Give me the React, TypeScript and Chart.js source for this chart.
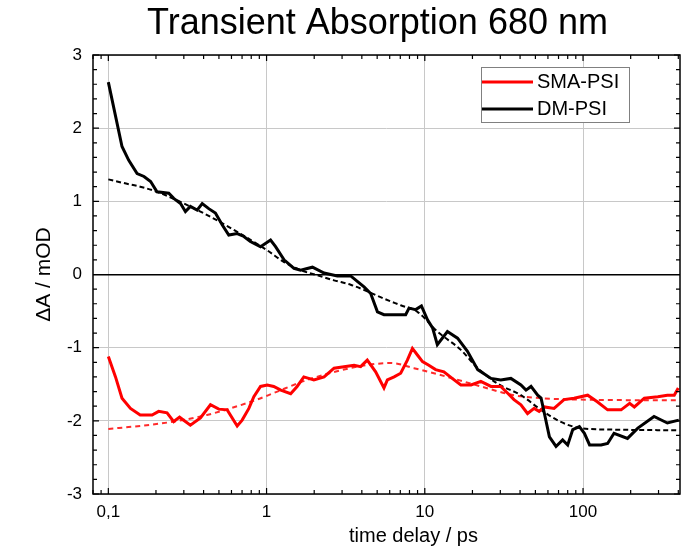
import { useEffect, useRef } from "react";
import { Chart, registerables } from "chart.js";

Chart.register(...registerables);

const TITLE = "Transient Absorption 680 nm";
const X_LABEL = "time delay / ps";
const Y_LABEL = "ΔA / mOD";
const SERIES_NAMES = ["SMA-PSI", "DM-PSI"];
const SERIES_COLORS = ["#ff0000", "#000000"];

// DM-PSI (black) measured trace
const dmX = [0.1, 0.122, 0.1346, 0.152, 0.168, 0.185, 0.203, 0.241, 0.259, 0.286, 0.307, 0.33, 0.364, 0.392, 0.431, 0.475, 0.524, 0.577, 0.652, 0.719, 0.79, 0.916, 1.06, 1.14, 1.29, 1.49, 1.64, 1.95, 2.31, 2.8, 3.4, 4.13, 4.55, 5.02, 5.52, 6.7, 7.57, 7.95, 8.76, 9.52, 10.4, 11.2, 12.0, 13.9, 16.1, 18.6, 21.6, 26.2, 30.2, 35.0, 40.5, 43.6, 46.9, 51.7, 54.3, 57.0, 61.3, 67.5, 74.3, 80.0, 86.1, 94.8, 102, 110, 130, 143, 157, 191, 222, 281, 341, 403];
const dmY = [2.63, 1.75, 1.56, 1.38, 1.34, 1.27, 1.13, 1.11, 1.04, 0.97, 0.86, 0.93, 0.88, 0.97, 0.9, 0.84, 0.68, 0.54, 0.56, 0.52, 0.45, 0.38, 0.47, 0.38, 0.2, 0.085, 0.06, 0.1, 0.02, -0.02, -0.02, -0.17, -0.26, -0.51, -0.55, -0.55, -0.55, -0.46, -0.48, -0.43, -0.62, -0.73, -0.96, -0.78, -0.87, -1.05, -1.3, -1.42, -1.44, -1.42, -1.51, -1.58, -1.53, -1.65, -1.69, -1.9, -2.22, -2.35, -2.26, -2.33, -2.12, -2.08, -2.17, -2.33, -2.33, -2.31, -2.17, -2.24, -2.1, -1.94, -2.03, -1.99];

// SMA-PSI (red) measured trace
const smaX = [0.1, 0.111, 0.122, 0.138, 0.159, 0.189, 0.208, 0.235, 0.259, 0.282, 0.33, 0.382, 0.442, 0.499, 0.564, 0.652, 0.701, 0.773, 0.831, 0.916, 1.01, 1.11, 1.23, 1.42, 1.56, 1.72, 1.99, 2.31, 2.67, 3.57, 3.93, 4.33, 4.89, 5.52, 5.8, 6.4, 7.04, 7.76, 8.35, 8.98, 9.67, 10.6, 11.7, 13.2, 14.9, 16.9, 19.6, 22.6, 26.2, 30.2, 33.3, 36.6, 40.5, 44.6, 49.1, 52.8, 57.0, 65.6, 75.8, 87.8, 107, 123, 143, 174, 197, 211, 244, 297, 341, 377, 400];
const smaY = [-1.12, -1.4, -1.69, -1.83, -1.92, -1.92, -1.87, -1.89, -2.01, -1.95, -2.06, -1.96, -1.78, -1.84, -1.85, -2.07, -1.99, -1.83, -1.67, -1.53, -1.51, -1.53, -1.58, -1.63, -1.53, -1.4, -1.44, -1.4, -1.28, -1.24, -1.26, -1.17, -1.33, -1.55, -1.44, -1.4, -1.35, -1.17, -1.01, -1.1, -1.19, -1.24, -1.3, -1.33, -1.42, -1.51, -1.51, -1.46, -1.53, -1.53, -1.62, -1.71, -1.78, -1.9, -1.83, -1.87, -1.81, -1.83, -1.71, -1.69, -1.65, -1.74, -1.85, -1.85, -1.76, -1.81, -1.69, -1.67, -1.65, -1.65, -1.55];

// Fits (dashed)
const dmFitX = [0.1, 0.125, 0.159, 0.203, 0.382, 0.621, 1.01, 1.29, 1.64, 2.09, 2.67, 3.4, 4.33, 5.52, 7.04, 8.98, 12.0, 16.9, 21.6, 28.8, 40.5, 54.3, 71.6, 96.4, 157, 403];
const dmFitY = [1.3, 1.25, 1.2, 1.13, 0.86, 0.61, 0.33, 0.17, 0.06, -0.01, -0.08, -0.14, -0.23, -0.33, -0.42, -0.51, -0.78, -1.03, -1.28, -1.49, -1.65, -1.85, -2.01, -2.1, -2.12, -2.13];
const smaFitX = [0.1, 0.159, 0.259, 0.42, 0.59, 0.87, 1.11, 1.81, 3.75, 6.08, 8.54, 13.9, 22.6, 36.6, 54.3, 96.4, 403];
const smaFitY = [-2.11, -2.07, -2.01, -1.92, -1.83, -1.71, -1.62, -1.44, -1.26, -1.21, -1.28, -1.4, -1.53, -1.65, -1.69, -1.71, -1.72];

// Axes
const X_MIN = 0.08;
const X_MAX = 410;
const X_MAJOR = [0.1, 1, 10, 100];
const X_TICK_LABELS = ["0,1", "1", "10", "100"];
const X_MINOR = [0.08, 0.09, 0.2, 0.3, 0.4, 0.5, 0.6, 0.7, 0.8, 0.9, 2, 3, 4, 5, 6, 7, 8, 9, 20, 30, 40, 50, 60, 70, 80, 90, 200, 300, 400];
const Y_MIN = -3;
const Y_MAX = 3;
const Y_MAJOR = [-3, -2, -1, 0, 1, 2, 3];
const Y_MINOR = [-2.8, -2.6, -2.4, -2.2, -1.8, -1.6, -1.4, -1.2, -0.8, -0.6, -0.4, -0.2, 0.2, 0.4, 0.6, 0.8, 1.2, 1.4, 1.6, 1.8, 2.2, 2.4, 2.6, 2.8];

const FONT = "'Liberation Sans', Arial, Helvetica, sans-serif";

const toPts = (xs: number[], ys: number[]) => xs.map((x, i) => ({ x, y: ys[i] }));

const framePlugin = {
  id: "frameTicksLegend",
  afterLayout(chart: any) {
    // nudge the chart title and the x-axis title horizontally to where the reference has them
    const tb = chart.titleBlock;
    if (tb) {
      tb.left = 62;
      tb.right = 693;
    }
    const xs = chart.scales.x;
    if (xs) xs.right += 54;
  },
  afterDatasetsDraw(chart: any) {
    const { ctx, chartArea: ca, scales } = chart;
    const xs = scales.x;
    const ys = scales.y;
    ctx.save();
    ctx.strokeStyle = "#000";
    ctx.lineWidth = 1.5;
    ctx.strokeRect(ca.left, ca.top, ca.right - ca.left, ca.bottom - ca.top);

    ctx.lineWidth = 1.2;
    ctx.beginPath();
    const tickX = (v: number, len: number) => {
      const px = xs.getPixelForValue(v);
      ctx.moveTo(px, ca.bottom);
      ctx.lineTo(px, ca.bottom - len);
      ctx.moveTo(px, ca.top);
      ctx.lineTo(px, ca.top + len);
    };
    const tickY = (v: number, len: number) => {
      const py = ys.getPixelForValue(v);
      ctx.moveTo(ca.left, py);
      ctx.lineTo(ca.left + len, py);
      ctx.moveTo(ca.right, py);
      ctx.lineTo(ca.right - len, py);
    };
    X_MAJOR.forEach((v) => tickX(v, 6));
    X_MINOR.forEach((v) => tickX(v, 4));
    Y_MAJOR.forEach((v) => tickY(v, 6));
    Y_MINOR.forEach((v) => tickY(v, 4));
    ctx.stroke();

    // legend box
    const lx = ca.right - 199;
    const ly = ca.top + 12;
    const lw = 148;
    const lh = 55;
    ctx.fillStyle = "#fff";
    ctx.fillRect(lx, ly, lw, lh);
    ctx.strokeStyle = "#808080";
    ctx.lineWidth = 1;
    ctx.strokeRect(lx + 0.5, ly + 0.5, lw, lh);
    ctx.font = `20px ${FONT}`;
    ctx.textBaseline = "middle";
    ctx.textAlign = "left";
    SERIES_NAMES.forEach((name, i) => {
      const cy = ly + 15 + i * 27;
      ctx.strokeStyle = SERIES_COLORS[i];
      ctx.lineWidth = 3;
      ctx.beginPath();
      ctx.moveTo(lx + 1, cy);
      ctx.lineTo(lx + 52, cy);
      ctx.stroke();
      ctx.fillStyle = "#000";
      ctx.fillText(name, lx + 56, cy);
    });
    ctx.restore();
  },
};

export default function App() {
  const ref = useRef<HTMLCanvasElement | null>(null);
  useEffect(() => {
    if (!ref.current) return;
    const chart = new Chart(ref.current, {
      type: "line",
      data: {
        datasets: [
          {
            label: SERIES_NAMES[1],
            data: toPts(dmX, dmY),
            borderColor: SERIES_COLORS[1],
            borderWidth: 3,
            pointRadius: 0,
            tension: 0,
            order: 0,
          },
          {
            label: SERIES_NAMES[0],
            data: toPts(smaX, smaY),
            borderColor: SERIES_COLORS[0],
            borderWidth: 3,
            pointRadius: 0,
            tension: 0,
            order: 1,
          },
          {
            label: SERIES_NAMES[1] + " fit",
            data: toPts(dmFitX, dmFitY),
            borderColor: "#000",
            borderWidth: 2,
            borderDash: [5, 3],
            pointRadius: 0,
            cubicInterpolationMode: "monotone",
            order: 2,
          },
          {
            label: SERIES_NAMES[0] + " fit",
            data: toPts(smaFitX, smaFitY),
            borderColor: "#ff2a2a",
            borderWidth: 2,
            borderDash: [5, 4],
            pointRadius: 0,
            cubicInterpolationMode: "monotone",
            order: 3,
          },
        ],
      },
      options: {
        responsive: false,
        animation: false,
        events: [],
        layout: { padding: { left: 0, right: 13, top: 0, bottom: 0 } },
        plugins: {
          legend: { display: false },
          tooltip: { enabled: false },
          title: {
            display: true,
            text: TITLE,
            color: "#000",
            font: { family: FONT, size: 36, weight: "normal" },
            padding: { top: 2, bottom: 9.8 },
          },
        },
        scales: {
          x: {
            type: "logarithmic",
            min: X_MIN,
            max: X_MAX,
            bounds: "data",
            afterBuildTicks: (s: any) => {
              s.ticks = X_MAJOR.map((v) => ({ value: v }));
            },
            afterFit: (s: any) => {
              s.height = 61;
            },
            ticks: {
              autoSkip: false,
              maxRotation: 0,
              padding: 8,
              color: "#000",
              font: { family: FONT, size: 17 },
              callback: (v: any) => {
                const i = X_MAJOR.indexOf(Number(v));
                return i >= 0 ? X_TICK_LABELS[i] : "";
              },
            },
            grid: { color: "#c8c8c8", lineWidth: 1, drawTicks: false },
            border: { display: false },
            title: {
              display: true,
              text: X_LABEL,
              color: "#000",
              font: { family: FONT, size: 20 },
              padding: { top: 0, bottom: 7 },
            },
          },
          y: {
            type: "linear",
            min: Y_MIN,
            max: Y_MAX,
            afterFit: (s: any) => {
              s.width = 93;
            },
            ticks: {
              stepSize: 1,
              padding: 11,
              color: "#000",
              font: { family: FONT, size: 17 },
            },
            grid: {
              color: (c: any) => (c.tick && c.tick.value === 0 ? "#000" : "#c8c8c8"),
              lineWidth: (c: any) => (c.tick && c.tick.value === 0 ? 1.6 : 1),
              drawTicks: false,
            },
            border: { display: false },
            title: {
              display: true,
              text: Y_LABEL,
              color: "#000",
              font: { family: FONT, size: 21 },
              padding: { top: 32, bottom: 0 },
            },
          },
        },
      },
      plugins: [framePlugin],
    } as any);
    return () => chart.destroy();
  }, []);
  return (
    <div style={{ position: "fixed", left: 0, top: 0, width: 693, height: 555, background: "#fff" }}>
      <canvas ref={ref} width={693} height={555} style={{ display: "block" }} />
    </div>
  );
}
